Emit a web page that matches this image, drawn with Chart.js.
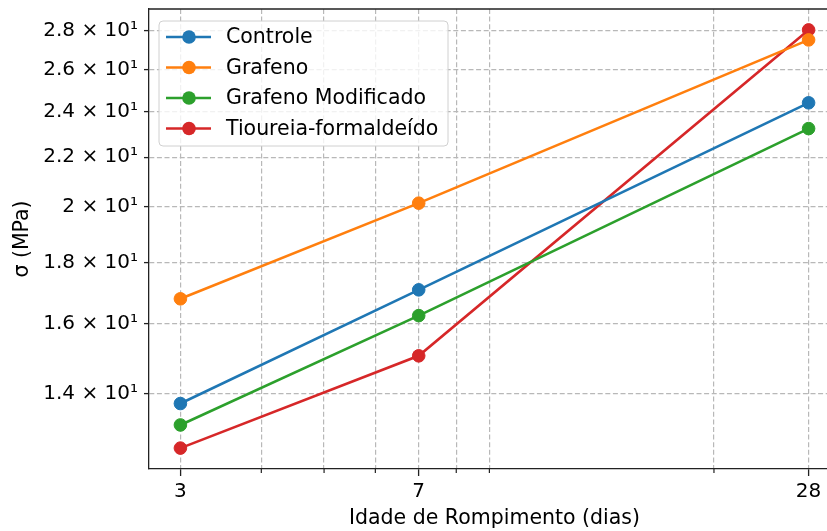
<!DOCTYPE html>
<html>
<head>
<meta charset="utf-8">
<script src="https://cdn.jsdelivr.net/npm/chart.js@4/dist/chart.umd.min.js"></script>
<style>
html, body { margin: 0; padding: 0; background: #fff; overflow: hidden; width: 827px; height: 531px; }
#wrap { position: absolute; left: 0; top: 0; width: 860px; height: 531px; }
</style>
</head>
<body>
<div id="wrap"><canvas id="myChart" width="860" height="531"></canvas></div>
<script>
// data
var dias = [3, 7, 28];
var controle = [13.75, 17.08, 24.40];
var grafeno = [16.79, 20.15, 27.51];
var grafenoMod = [13.20, 16.26, 23.23];
var tioureia = [12.63, 15.06, 28.04];
var seriesNames = ['Controle', 'Grafeno', 'Grafeno Modificado', 'Tioureia-formaldeído'];
var seriesColors = ['#1f77b4', '#ff7f0e', '#2ca02c', '#d62728'];

var xMajor = [3, 7, 28];
var xMinor = [4, 5, 6, 8, 9, 20, 30];
var yTicks = [14, 16, 18, 20, 22, 24, 26, 28];
var yTickLabels = ['1.4 × 10¹', '1.6 × 10¹', '1.8 × 10¹', '2 × 10¹', '2.2 × 10¹', '2.4 × 10¹', '2.6 × 10¹', '2.8 × 10¹'];

var FONT = "'DejaVu Sans', sans-serif";

// matplotlib-like 5% margins in log space
function logLimits(vals) {
    var lo = Math.log(Math.min.apply(null, vals));
    var hi = Math.log(Math.max.apply(null, vals));
    var m = (hi - lo) * 0.05;
    return [Math.exp(lo - m), Math.exp(hi + m)];
}
var xLim = logLimits(dias);
var yLim = logLimits(controle.concat(grafeno, grafenoMod, tioureia));

function pts(vals) {
    return dias.map(function(d, i) { return {x: d, y: vals[i]}; });
}

var allSeries = [controle, grafeno, grafenoMod, tioureia];
var datasets = [];
for (var i = 0; i < allSeries.length; i++) {
    datasets.push({
        label: seriesNames[i],
        data: pts(allSeries[i]),
        borderColor: seriesColors[i],
        backgroundColor: seriesColors[i],
        pointBackgroundColor: seriesColors[i],
        pointBorderColor: seriesColors[i],
        borderWidth: 2.6,
        pointRadius: 6.3,
        pointBorderWidth: 1,
        tension: 0,
        clip: false
    });
}

var extras = {
    id: 'extras',
    afterDraw: function(chart) {
        var ctx = chart.ctx;
        var a = chart.chartArea;
        var xs = chart.scales.x;
        ctx.save();
        // short minor ticks on x
        ctx.strokeStyle = '#222';
        ctx.lineWidth = 1.2;
        xMinor.forEach(function(v) {
            var px = xs.getPixelForValue(v);
            ctx.beginPath();
            ctx.moveTo(px, a.bottom);
            ctx.lineTo(px, a.bottom + 4);
            ctx.stroke();
        });
        // top and right spines
        ctx.lineWidth = 1.3;
        ctx.beginPath();
        ctx.moveTo(a.left, a.top);
        ctx.lineTo(a.right, a.top);
        ctx.lineTo(a.right, a.bottom);
        ctx.stroke();

        // legend box
        var bx = a.left + 10, by = a.top + 12, bw = 289, bh = 125, r = 4;
        ctx.beginPath();
        ctx.moveTo(bx + r, by);
        ctx.arcTo(bx + bw, by, bx + bw, by + bh, r);
        ctx.arcTo(bx + bw, by + bh, bx, by + bh, r);
        ctx.arcTo(bx, by + bh, bx, by, r);
        ctx.arcTo(bx, by, bx + bw, by, r);
        ctx.closePath();
        ctx.fillStyle = 'rgba(255,255,255,0.8)';
        ctx.fill();
        ctx.strokeStyle = '#d0d0d0';
        ctx.lineWidth = 1;
        ctx.stroke();

        ctx.font = '20.5px ' + FONT;
        ctx.textBaseline = 'middle';
        ctx.textAlign = 'left';
        chart.data.datasets.forEach(function(ds, k) {
            var yy = by + 16 + k * 30.5;
            ctx.strokeStyle = ds.borderColor;
            ctx.lineWidth = 2.6;
            ctx.beginPath();
            ctx.moveTo(bx + 7, yy);
            ctx.lineTo(bx + 52, yy);
            ctx.stroke();
            ctx.fillStyle = ds.borderColor;
            ctx.beginPath();
            ctx.arc(bx + 30, yy, 6.8, 0, Math.PI * 2);
            ctx.fill();
            ctx.fillStyle = '#000';
            ctx.fillText(ds.label, bx + 67, yy + 1);
        });
        ctx.restore();
    }
};

var ctx = document.getElementById('myChart').getContext('2d');
var myChart = new Chart(ctx, {
    type: 'line',
    data: { datasets: datasets },
    options: {
        responsive: false,
        animation: false,
        layout: { padding: { top: 9, right: 20, left: 0, bottom: 0 } },
        plugins: { legend: { display: false }, tooltip: { enabled: false } },
        scales: {
            x: {
                type: 'logarithmic',
                min: xLim[0],
                max: xLim[1],
                bounds: 'data',
                afterBuildTicks: function(s) {
                    s.ticks = xMajor.concat(xMinor).sort(function(p, q) { return p - q; })
                        .map(function(v) { return {value: v}; });
                },
                afterFit: function(s) { s.height = 62; s.paddingLeft = 0; s.paddingRight = 0; },
                ticks: {
                    autoSkip: false, maxRotation: 0, padding: 4, color: '#000',
                    font: { family: FONT, size: 20 },
                    callback: function(v) { return xMajor.indexOf(v) >= 0 ? String(v) : ''; }
                },
                grid: {
                    color: '#b8b8b8', lineWidth: 1.2, tickLength: 7, tickWidth: 1.3,
                    tickColor: function(c) { return (c.tick && xMajor.indexOf(c.tick.value) >= 0) ? '#222' : 'rgba(0,0,0,0)'; }
                },
                border: { color: '#222', width: 1.3, dash: [5, 2.6] },
                title: { display: true, text: 'Idade de Rompimento (dias)', color: '#000',
                         font: { family: FONT, size: 20.5 }, padding: { top: 0, bottom: 0 } }
            },
            y: {
                type: 'logarithmic',
                min: yLim[0],
                max: yLim[1],
                bounds: 'data',
                afterBuildTicks: function(s) {
                    s.ticks = yTicks.map(function(v) { return {value: v}; });
                },
                afterFit: function(s) { s.width = 149; s.paddingTop = 0; s.paddingBottom = 0; },
                ticks: {
                    autoSkip: false, padding: 6, color: '#000',
                    font: { family: FONT, size: 20 },
                    callback: function(v) { var k = yTicks.indexOf(v); return k >= 0 ? yTickLabels[k] : ''; }
                },
                grid: { color: '#b8b8b8', lineWidth: 1.2, tickLength: 5, tickWidth: 1.3, tickColor: '#222' },
                border: { color: '#222', width: 1.3, dash: [5, 2.6] },
                title: { display: true, text: 'σ (MPa)', color: '#000',
                         font: { family: FONT, size: 20.5 }, padding: { top: 10, bottom: 0 } }
            }
        }
    },
    plugins: [extras]
});
</script>
</body>
</html>
